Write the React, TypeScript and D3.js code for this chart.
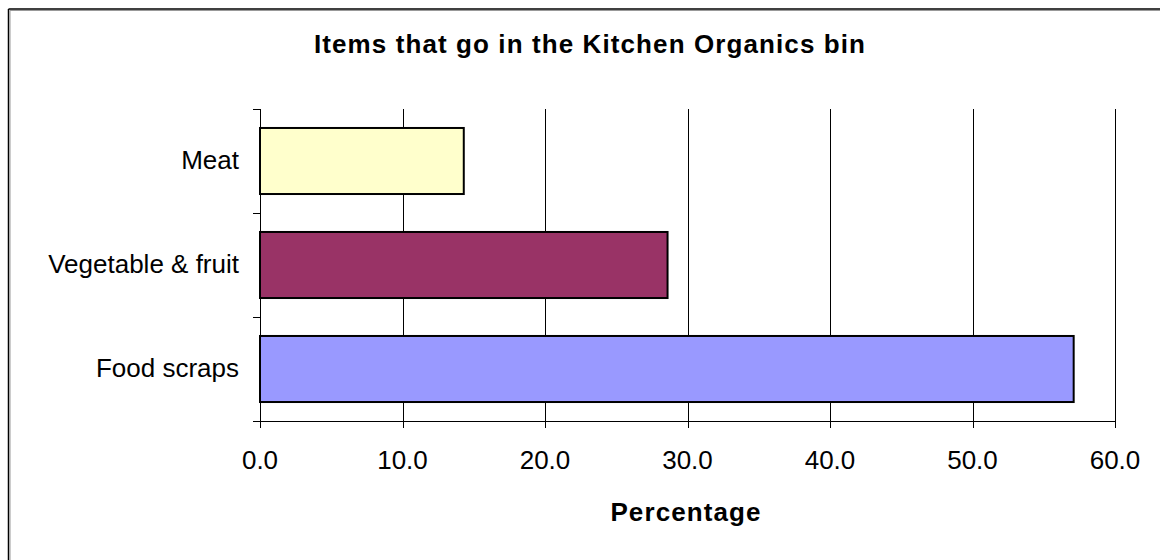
import React from "react";
import * as d3 from "d3";

const categories = ["Meat", "Vegetable & fruit", "Food scraps"];
const values = [14.3, 28.6, 57.1];
const barColors = ["#FFFFCC", "#993366", "#9999FF"];
const xTicks = [0, 10, 20, 30, 40, 50, 60];
const titleText = "Items that go in the Kitchen Organics bin";
const xAxisTitle = "Percentage";

const W = 1160;
const H = 560;
const FONT = "'Liberation Sans', Arial, Helvetica, sans-serif";

export default function App() {
  const x = d3.scaleLinear().domain([0, 60]).range([260, 1115]);
  const y = d3
    .scaleBand<string>()
    .domain(categories)
    .range([109, 421])
    .paddingInner(0.365)
    .paddingOuter(0.1825);
  const step = y.step();
  const [y0, y1] = y.range();
  const catTicks = d3.range(categories.length + 1).map((i) => y0 + i * step);

  return (
    <svg
      width={W}
      height={H}
      style={{ position: "absolute", left: 0, top: 0, background: "#fff" }}
    >
      {/* outer frame (top & left visible) */}
      <line x1={8.5} y1={9} x2={W + 5} y2={9} stroke="#000" strokeWidth={1.5} />
      <line x1={8.5} y1={9} x2={8.5} y2={H + 5} stroke="#000" strokeWidth={1.5} />
      <line x1={10} y1={10.5} x2={W + 5} y2={10.5} stroke="#999" strokeWidth={1} />
      <line x1={10} y1={10.5} x2={10} y2={H + 5} stroke="#999" strokeWidth={1} />

      <text
        x={590}
        y={53}
        textAnchor="middle"
        fontFamily={FONT}
        fontSize={26}
        fontWeight="bold"
        letterSpacing={1.1}
      >
        {titleText}
      </text>

      {/* gridlines */}
      {xTicks.slice(1).map((t) => (
        <line
          key={"g" + t}
          x1={Math.round(x(t)) + 0.5}
          x2={Math.round(x(t)) + 0.5}
          y1={y0}
          y2={y1}
          stroke="#000"
          strokeWidth={1}
        />
      ))}

      {/* bars */}
      {categories.map((c, i) => (
        <rect
          key={c}
          x={x(0)}
          y={y(c)!}
          width={x(values[i]) - x(0)}
          height={y.bandwidth()}
          fill={barColors[i]}
          stroke="#000"
          strokeWidth={2}
        />
      ))}

      {/* y axis */}
      <line x1={260.5} x2={260.5} y1={y0} y2={y1} stroke="#000" strokeWidth={1} />
      {catTicks.map((t, i) => (
        <line
          key={"yt" + i}
          x1={253}
          x2={260.5}
          y1={Math.round(t) + 0.5}
          y2={Math.round(t) + 0.5}
          stroke="#000"
          strokeWidth={1}
        />
      ))}
      {categories.map((c) => (
        <text
          key={"l" + c}
          x={239}
          y={y(c)! + y.bandwidth() / 2 + 7.5}
          textAnchor="end"
          fontFamily={FONT}
          fontSize={26}
        >
          {c}
        </text>
      ))}

      {/* x axis */}
      <line x1={253} x2={x(60) + 0.5} y1={421.5} y2={421.5} stroke="#000" strokeWidth={1} />
      {xTicks.map((t) => (
        <g key={"xt" + t}>
          <line
            x1={Math.round(x(t)) + 0.5}
            x2={Math.round(x(t)) + 0.5}
            y1={421}
            y2={428}
            stroke="#000"
            strokeWidth={1}
          />
          <text
            x={x(t)}
            y={469}
            textAnchor="middle"
            fontFamily={FONT}
            fontSize={26}
          >
            {t.toFixed(1)}
          </text>
        </g>
      ))}

      <text
        x={686}
        y={521}
        textAnchor="middle"
        fontFamily={FONT}
        fontSize={26}
        fontWeight="bold"
        letterSpacing={1.1}
      >
        {xAxisTitle}
      </text>
    </svg>
  );
}
